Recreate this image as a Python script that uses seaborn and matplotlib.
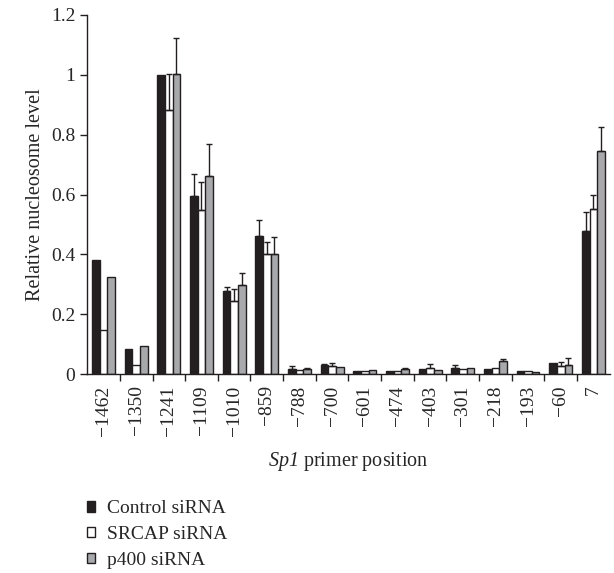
import numpy as np
import pandas as pd
import seaborn as sns
import matplotlib.pyplot as plt
from matplotlib.patches import Patch
from matplotlib.ticker import FuncFormatter

positions = ["\u22121462", "\u22121350", "\u22121241", "\u22121109", "\u22121010", "\u2212859",
             "\u2212788", "\u2212700", "\u2212601", "\u2212474", "\u2212403", "\u2212301",
             "\u2212218", "\u2212193", "\u221260", "7"]
groups = ["Control siRNA", "SRCAP siRNA", "p400 siRNA"]

control = [0.381, 0.083, 1.0, 0.596, 0.278, 0.463, 0.018, 0.029, 0.009, 0.011, 0.018, 0.021,
           0.016, 0.010, 0.036, 0.478]
srcap = [0.147, 0.030, 0.881, 0.548, 0.244, 0.400, 0.015, 0.027, 0.009, 0.011, 0.020, 0.017,
         0.021, 0.011, 0.028, 0.551]
p400 = [0.326, 0.094, 1.004, 0.662, 0.298, 0.403, 0.016, 0.023, 0.013, 0.017, 0.013, 0.022,
        0.043, 0.008, 0.032, 0.747]

# upper error only (0 = no error bar drawn)
control_err = [0, 0, 0, 0.071, 0.013, 0.051, 0.010, 0.004, 0, 0, 0, 0.011,
               0, 0, 0, 0.065]
srcap_err = [0, 0, 0.122, 0.095, 0.039, 0.043, 0, 0.010, 0, 0, 0.013, 0,
             0, 0, 0.011, 0.048]
p400_err = [0, 0, 0.118, 0.107, 0.040, 0.056, 0.003, 0, 0, 0.003, 0, 0,
            0.009, 0, 0.023, 0.080]

colors = ["#231f20", "#ffffff", "#a7a9ac"]

df = pd.DataFrame({
    "pos": positions * 3,
    "value": control + srcap + p400,
    "siRNA": [g for g in groups for _ in positions],
})

sns.set_style("white")
plt.rcParams["font.family"] = ["Liberation Serif", "DejaVu Serif"]
# mathtext only used for the italic gene name
plt.rcParams["mathtext.fontset"] = "custom"
plt.rcParams["mathtext.rm"] = "Liberation Serif:italic"
plt.rcParams["mathtext.it"] = "Liberation Serif:italic"

fig = plt.figure(figsize=(6.14, 5.73), dpi=100)
ax = fig.add_axes([0.142, 0.347, 0.851, 0.627])

sns.barplot(data=df, x="pos", y="value", hue="siRNA", order=positions, hue_order=groups,
            palette=colors, edgecolor="#231f20", linewidth=1.0, width=0.7,
            errorbar=None, saturation=1, legend=False, ax=ax)

for cont, err in zip(ax.containers, [control_err, srcap_err, p400_err]):
    xs, ys, es = [], [], []
    for bar, e in zip(cont, err):
        if e > 0:
            xs.append(bar.get_x() + bar.get_width() / 2)
            ys.append(bar.get_height())
            es.append(e)
    es = np.array(es)
    ax.errorbar(xs, ys, yerr=[np.zeros_like(es), es], fmt="none", ecolor="#231f20",
                elinewidth=1.0, capsize=2.5, capthick=1.0)

handles = [Patch(facecolor=c, edgecolor="#231f20", linewidth=1.0) for c in colors]
fig.legend(handles, groups, loc="upper left", bbox_to_anchor=(0.141, 0.127),
           frameon=False, fontsize=14, handlelength=0.45, handleheight=0.45,
           handletextpad=0.6, labelspacing=0.45, borderaxespad=0, borderpad=0)

ax.set_xlim(-0.5, len(positions) - 0.5)
ax.set_ylim(0, 1.2)
ax.set_yticks(np.arange(0, 1.21, 0.2))
ax.yaxis.set_major_formatter(FuncFormatter(lambda v, p: f"{v:g}"))
ax.set_xticks(range(len(positions)))
ax.set_xticklabels(positions, rotation=90)
ax.set_xticks(np.arange(0.5, len(positions) - 0.5, 1), minor=True)
ax.tick_params(axis="x", which="major", length=0, labelsize=14, pad=8)
ax.tick_params(axis="x", which="minor", length=5, width=1, color="#231f20", direction="out", bottom=True)
ax.tick_params(axis="y", length=5, width=1, color="#231f20", direction="out", left=True, labelsize=14)

ax.set_ylabel("Relative nucleosome level", fontsize=14.5)
ax.set_xlabel(r"$\mathrm{Sp1}$ primer position", fontsize=14.5, labelpad=10)

sns.despine(ax=ax)
for s in ["left", "bottom"]:
    ax.spines[s].set_color("#231f20")
    ax.spines[s].set_linewidth(1.0)

fig.savefig("out.png", dpi=100)
